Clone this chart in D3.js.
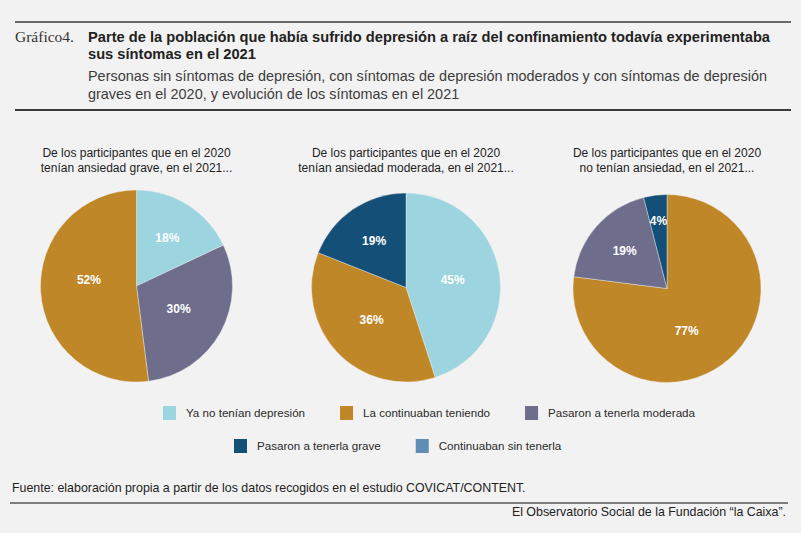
<!DOCTYPE html>
<html>
<head>
<meta charset="utf-8">
<script src="https://cdn.jsdelivr.net/npm/d3@7"></script>
<style>
  body { margin: 0; background: #f2f2f2; }
  svg { display: block; font-family: "Liberation Sans", Arial, sans-serif; }
</style>
</head>
<body>
<svg id="chart" width="801" height="533"></svg>
<script>
// categories + colours
const categories = ["Ya no tenían depresión", "La continuaban teniendo", "Pasaron a tenerla moderada",
                    "Pasaron a tenerla grave", "Continuaban sin tenerla"];
const catColors = ["#9cd4df", "#c08729", "#6e6e8c", "#134f77", "#5f8db5"];

// three pies, values in % (clockwise from 12 o'clock)
const graveCats = [0, 2, 1];
const graveValues = [18, 30, 52];
const moderadaCats = [0, 1, 3];
const moderadaValues = [45, 36, 19];
const sinCats = [1, 2, 3];
const sinValues = [77, 19, 4];

const pieTitles = [
  ["De los participantes que en el 2020", "tenían ansiedad grave, en el 2021..."],
  ["De los participantes que en el 2020", "tenían ansiedad moderada, en el 2021..."],
  ["De los participantes que en el 2020", "no tenían ansiedad, en el 2021..."]
];

const titleLines = ["Parte de la población que había sufrido depresión a raíz del confinamiento todavía experimentaba",
                    "sus síntomas en el 2021"];
const subtitleLines = ["Personas sin síntomas de depresión, con síntomas de depresión moderados y con síntomas de depresión",
                       "graves en el 2020, y evolución de los síntomas en el 2021"];
const sourceText = "Fuente: elaboración propia a partir de los datos recogidos en el estudio COVICAT/CONTENT.";
const creditText = "El Observatorio Social de la Fundación “la Caixa”.";

const svg = d3.select("#chart");
svg.append("rect").attr("width", 801).attr("height", 533).attr("fill", "#f2f2f2");

// header
svg.append("line").attr("x1", 15).attr("x2", 791).attr("y1", 22).attr("y2", 22)
  .attr("stroke", "#3a3a3a").attr("stroke-width", 1.6);
svg.append("text").attr("x", 15).attr("y", 42)
  .attr("font-family", "'Liberation Serif', 'DejaVu Serif', serif")
  .attr("font-size", 15.5).attr("fill", "#333").text("Gráfico4.");

function squeezeBlock(lines, y0, lh, attrs, firstWidth) {
  const g = svg.append("g");
  const texts = g.selectAll("text").data(lines).enter().append("text")
    .attr("x", 88).attr("y", (d, i) => y0 + i * lh)
    .attr("font-size", attrs.size).attr("font-weight", attrs.weight)
    .attr("fill", attrs.fill).text(d => d);
  const k = firstWidth / texts.nodes()[0].getComputedTextLength();
  texts.each(function() {
    const w = this.getComputedTextLength();
    d3.select(this).attr("textLength", w * k).attr("lengthAdjust", "spacingAndGlyphs");
  });
}
squeezeBlock(titleLines, 41.5, 17.8, {size: 15, weight: "bold", fill: "#222"}, 682);
squeezeBlock(subtitleLines, 81, 17.5, {size: 15, weight: "normal", fill: "#3c3c3c"}, 679);

svg.append("line").attr("x1", 15).attr("x2", 791).attr("y1", 110).attr("y2", 110)
  .attr("stroke", "#3a3a3a").attr("stroke-width", 2.2);

// pies
const pies = [
  {cats: graveCats, values: graveValues, cx: 136.5, cy: 286, r: 96},
  {cats: moderadaCats, values: moderadaValues, cx: 406, cy: 287.5, r: 94.5},
  {cats: sinCats, values: sinValues, cx: 667, cy: 288.5, r: 94}
];

const pie = d3.pie().sort(null).value(d => d.v);

pies.forEach((p, i) => {
  const data = p.values.map((v, j) => ({v: v, c: p.cats[j]}));
  const arcs = pie(data);
  const arc = d3.arc().innerRadius(0).outerRadius(p.r);
  const g = svg.append("g").attr("transform", `translate(${p.cx},${p.cy})`);

  g.selectAll("path").data(arcs).enter().append("path")
    .attr("d", arc)
    .attr("fill", d => catColors[d.data.c])
    .attr("stroke", "#f2f2f2").attr("stroke-width", 0.4);

  g.selectAll("text.pct").data(arcs).enter().append("text")
    .attr("class", "pct")
    .attr("transform", d => {
      const f = d.data.v < 10 ? 0.73 : d.data.v < 25 ? 0.6 : 0.5;
      // big slices: label pushed a bit further round the slice
      const a = d.data.v > 50 ? d.startAngle + (d.endAngle - d.startAngle) * 0.56
              : (d.startAngle + d.endAngle) / 2;
      const rr = p.r * f;
      return `translate(${Math.sin(a) * rr},${-Math.cos(a) * rr})`;
    })
    .attr("dy", "0.35em").attr("text-anchor", "middle")
    .attr("font-size", 12).attr("font-weight", "bold").attr("fill", "#fff")
    .text(d => d.data.v + "%");

  svg.append("g").selectAll("text").data(pieTitles[i]).enter().append("text")
    .attr("x", p.cx).attr("y", (d, j) => 157 + j * 15)
    .attr("text-anchor", "middle").attr("font-size", 12).attr("fill", "#222")
    .text(d => d);
});

// legend
const legendRows = [
  {items: [0, 1, 2], x: 163, y: 413},
  {items: [3, 4], x: 234, y: 446}
];
legendRows.forEach(row => {
  let x = row.x;
  row.items.forEach(c => {
    svg.append("rect").attr("x", x).attr("y", row.y - 7).attr("width", 13).attr("height", 14)
      .attr("fill", catColors[c]);
    const t = svg.append("text").attr("x", x + 23).attr("y", row.y).attr("dy", "0.35em")
      .attr("font-size", 11.6).attr("fill", "#2a2a2a").text(categories[c]);
    const w = t.node().getComputedTextLength();
    x += 23 + w + 35;
  });
});

// footer
svg.append("text").attr("x", 12).attr("y", 492).attr("font-size", 12.4).attr("fill", "#222")
  .text(sourceText);
svg.append("line").attr("x1", 10).attr("x2", 788).attr("y1", 503).attr("y2", 503)
  .attr("stroke", "#555").attr("stroke-width", 1.6);
svg.append("text").attr("x", 786).attr("y", 515.5).attr("text-anchor", "end")
  .attr("font-size", 12.4).attr("fill", "#222").text(creditText);
</script>
</body>
</html>
